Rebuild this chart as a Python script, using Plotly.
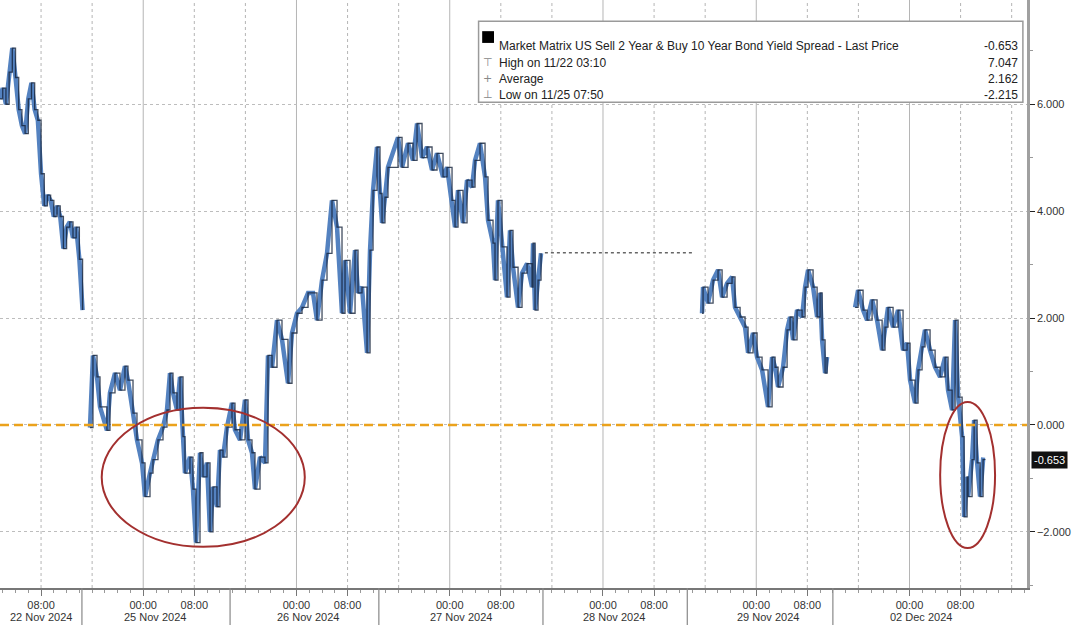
import plotly.graph_objects as go

# x = hours on the compressed trading axis (22 Nov 00:00 = 0, one 24h slot per trading day)
nov22_hours = [1.5, 2.0, 2.5, 3.0, 3.5, 4.0, 4.5, 5.0, 5.5, 6.0, 6.5, 7.0, 7.5, 8.0,
               8.5, 9.0, 9.5, 10.0, 10.5, 11.0, 11.5, 12.0, 12.5, 13.0, 13.5, 14.0, 14.5]
nov22_spread = [6.1, 6.3, 6.0, 6.6, 7.05, 6.5, 5.9, 5.6, 5.45, 6.1, 6.4, 5.9, 5.7, 4.7,
                4.1, 4.3, 4.2, 3.9, 4.1, 3.9, 3.3, 3.7, 3.8, 3.5, 3.7, 3.1, 2.15]

nov25_27_hours = [15.66, 16.13, 16.76, 17.23, 18.32, 18.79, 19.58, 20.36, 21.14, 21.61,
                  22.40, 23.02, 23.81, 24.28, 25.06, 25.53, 26.31, 27.10, 27.72, 28.19,
                  28.66, 29.29, 29.76, 30.23, 30.54, 31.32, 31.79, 32.26, 32.89, 33.36,
                  33.99, 34.46, 34.93, 35.55, 36.02, 36.49, 37.12, 37.90, 38.37, 39.16,
                  39.94, 40.41, 41.03, 41.50, 42.29, 43.07, 43.54, 44.17, 44.95, 45.73,
                  46.67, 47.30, 48.08, 48.87, 49.81, 50.59, 51.21, 52.00, 52.78, 53.56,
                  54.35, 55.13, 55.60, 56.38, 57.17, 57.64, 58.26, 59.05, 59.52, 59.99,
                  60.61, 61.08, 61.40, 61.86, 62.33, 63.90, 64.53, 65.47, 66.25, 66.88,
                  67.66, 68.44, 69.23, 70.01, 70.95, 71.58, 72.36, 72.83, 73.30, 74.08,
                  74.71, 75.49, 75.96, 76.74, 77.53, 78.00, 78.78, 79.09, 79.56, 80.19,
                  80.97, 81.44, 81.91, 82.70, 83.32, 84.11, 84.89, 85.05, 85.36, 85.83,
                  86.30]
nov25_27_spread = [-0.05, 1.3, 0.9, 0.34, -0.1, 0.6, 0.97, 0.65, 1.1, 0.84,
                   0.22, -0.28, -0.71, -1.34, -0.9, -0.65, -0.28, -0.04, 0.28, 0.97,
                   0.6, 0.28, 0.9, -0.22, -0.9, -0.6, -1.2, -2.2, -0.52, -0.97,
                   -0.71, -2.0, -1.16, -1.53, -0.47, -0.6, -0.04, 0.41, -0.09, -0.28,
                   0.47, -0.28, -0.52, -1.2, -0.6, -0.71, 1.3, 1.08, 1.96, 1.6,
                   0.78, 1.72, 2.09, 2.2, 2.47, 2.47, 1.96, 2.71, 3.21, 4.2,
                   3.7, 2.09, 3.08, 2.09, 3.27, 2.47, 2.58, 1.35, 3.27, 4.39,
                   5.2, 4.33, 3.78, 4.26, 4.82, 5.38, 4.82, 5.27, 4.95, 5.64,
                   5.0, 5.2, 4.77, 5.08, 4.64, 4.82, 4.2, 3.7, 4.39, 3.78,
                   4.58, 4.45, 4.95, 5.27, 4.64, 3.83, 3.4, 2.71, 4.2, 3.33,
                   2.39, 3.64, 2.95, 2.2, 2.84, 3.02, 2.58, 3.4, 2.15, 2.71,
                   3.21]

# Thanksgiving: no trading, last value carried
holiday_hours = [86.9, 110.1]
holiday_spread = [3.22, 3.22]

nov29_hours = [111.51, 111.67, 112.45, 113.24, 114.02, 114.65, 115.43, 116.21, 116.68,
               117.47, 118.25, 118.72, 119.50, 120.13, 120.91, 121.85, 122.48, 122.95,
               123.42, 124.20, 124.83, 125.30, 125.77, 126.39, 127.18, 127.65, 128.12,
               128.90, 129.53, 130.00, 130.31, 130.78, 131.09]
nov29_spread = [2.09, 2.58, 2.28, 2.71, 2.9, 2.39, 2.65, 2.77, 2.2,
                2.02, 1.83, 1.35, 1.72, 1.27, 1.03, 0.34, 1.27, 1.08,
                0.71, 1.08, 1.78, 2.02, 1.59, 2.15, 2.02, 2.58, 2.9,
                2.58, 2.02, 2.47, 1.59, 0.97, 1.27]

dec02_hours = [135.48, 135.95, 136.73, 137.36, 138.14, 138.92, 139.71, 140.17, 140.64,
               141.43, 142.21, 142.99, 143.62, 144.09, 144.87, 145.34, 145.97, 146.43,
               147.22, 148.01, 148.79, 149.57, 150.04, 150.67, 151.14, 151.61, 152.24,
               152.55, 153.02, 153.18, 153.80, 154.12, 154.59, 155.05, 155.52, 155.83]
dec02_spread = [2.2, 2.52, 2.15, 1.96, 2.34, 1.96, 1.4, 1.83, 2.2,
                1.83, 2.15, 1.4, 1.53, 0.84, 0.41, 1.03, 1.46, 1.78,
                1.4, 1.08, 0.9, 1.27, 0.65, 0.28, 1.96, 0.52, -0.22,
                -1.72, -0.97, -1.34, -0.65, 0.09, -0.71, -1.34, -0.65, -0.653]

day_labels = ["22 Nov 2024", "25 Nov 2024", "26 Nov 2024", "27 Nov 2024",
              "28 Nov 2024", "29 Nov 2024", "02 Dec 2024"]
day_starts = [0, 24, 48, 72, 96, 120, 144]
day_separators = [14.4, 37.6, 60.9, 86.6, 109.2, 132.0]

legend_title = "Market Matrix US Sell 2 Year & Buy 10 Year Bond Yield Spread - Last Price"
stat_labels = ["High on 11/22 03:10", "Average", "Low on 11/25 07:50"]
stat_glyphs = ["⊤", "+", "⊥"]
stat_values = [7.047, 2.162, -2.215]
last_price = -0.653

y_ticks = [-2, 0, 2, 4, 6]

FONT = "Liberation Sans"
BLUE = "#5482c0"

fig = go.Figure()

sessions = [(nov22_hours, nov22_spread), (nov25_27_hours, nov25_27_spread),
            (nov29_hours, nov29_spread), (dec02_hours, dec02_spread)]
for hrs, vals in sessions:
    # light blue body, dark bar outline on top (Bloomberg bar look)
    fig.add_trace(go.Scatter(x=hrs, y=vals, mode="lines",
                             line=dict(color=BLUE, width=4.5), hoverinfo="skip"))
    fig.add_trace(go.Scatter(x=hrs, y=vals, mode="lines", line_shape="hv",
                             line=dict(color="#14223a", width=1.3), opacity=0.8,
                             hoverinfo="skip"))

fig.add_trace(go.Scatter(x=holiday_hours, y=holiday_spread, mode="lines",
                         line=dict(color="#666", width=1.5, dash="dot"), hoverinfo="skip"))

shapes = []
# vertical grid: solid at midnight, dotted at 08:00 / 16:00
for d in day_starts + [168]:
    for h, dash in [(0, "solid"), (8, "dot"), (16, "dot")]:
        xv = d + h
        if 1.6 < xv < 162.4:
            shapes.append(dict(type="line", xref="x", yref="paper", x0=xv, x1=xv, y0=0, y1=1,
                               line=dict(color="#b5b5b5", width=1, dash=dash), layer="below"))
# day separators in the label strip
for s in day_separators:
    shapes.append(dict(type="line", xref="x", yref="paper", x0=s, x1=s, y0=0, y1=-0.07,
                       line=dict(color="#888", width=1.2)))
# zero line
shapes.append(dict(type="line", xref="paper", yref="y", x0=0, x1=1, y0=0, y1=0,
                   line=dict(color="#eba21c", width=2.5, dash="9px,5px")))
# red highlight ellipses
shapes.append(dict(type="circle", xref="x", yref="y", x0=17.5, x1=49.3, y0=-2.28, y1=0.32,
                   line=dict(color="#a3302f", width=2)))
shapes.append(dict(type="circle", xref="x", yref="y", x0=148.8, x1=157.4, y0=-2.3, y1=0.43,
                   line=dict(color="#a3302f", width=2)))
# legend box
shapes.append(dict(type="rect", xref="paper", yref="paper", x0=0.466, x1=0.996,
                   y0=0.826, y1=0.964, fillcolor="white",
                   line=dict(color="#9a9a9a", width=1.5)))
shapes.append(dict(type="rect", xref="paper", yref="paper", x0=0.4695, x1=0.481,
                   y0=0.927, y1=0.947, fillcolor="black", line=dict(width=0)))

annotations = []
rows_y = [0.937, 0.909, 0.881, 0.853]
annotations.append(dict(x=0.484, y=rows_y[0], xref="paper", yref="paper", xanchor="left",
                        text=legend_title, showarrow=False, font=dict(size=12, color="#222")))
annotations.append(dict(x=0.993, y=rows_y[0], xref="paper", yref="paper", xanchor="right",
                        text=f"{last_price:.3f}", showarrow=False, font=dict(size=12, color="#222")))
for i, (lab, g, v) in enumerate(zip(stat_labels, stat_glyphs, stat_values)):
    annotations.append(dict(x=0.475, y=rows_y[i + 1], xref="paper", yref="paper",
                            xanchor="center", text=g, showarrow=False,
                            font=dict(size=11, color="#888", family="DejaVu Sans")))
    annotations.append(dict(x=0.484, y=rows_y[i + 1], xref="paper", yref="paper",
                            xanchor="left", text=lab, showarrow=False,
                            font=dict(size=12, color="#222")))
    annotations.append(dict(x=0.993, y=rows_y[i + 1], xref="paper", yref="paper",
                            xanchor="right", text=f"{v:.3f}", showarrow=False,
                            font=dict(size=12, color="#222")))
# date row
for d, lab in zip(day_starts, day_labels):
    xl = d + 1.8 if d > 0 else 8
    annotations.append(dict(x=xl, y=-0.05, xref="x", yref="paper", yanchor="middle",
                            text=lab, showarrow=False, font=dict(size=11, color="#333")))
# last price tag
annotations.append(dict(x=1, y=last_price, xref="paper", yref="y", xanchor="left", xshift=4,
                        text=f"{last_price:.3f}", showarrow=False, bgcolor="#111",
                        borderpad=2, font=dict(size=11, color="white")))

tick_vals = []
tick_text = []
for d in day_starts:
    for h in (0, 8):
        if d + h > 1.6:
            tick_vals.append(d + h)
            tick_text.append(f"{h:02d}:00")

fig.update_layout(
    width=1080, height=625,
    margin=dict(l=0, r=53, t=0, b=37),
    paper_bgcolor="white", plot_bgcolor="white",
    showlegend=False,
    font=dict(family=FONT, size=11, color="#333"),
    shapes=shapes, annotations=annotations,
)
fig.update_xaxes(range=[1.57, 162.4], tickvals=tick_vals, ticktext=tick_text,
                 showgrid=False, zeroline=False, showline=True, linecolor="#777",
                 linewidth=1.5, ticks="outside", ticklen=6, tickcolor="#777",
                 minor=dict(dtick=2, tick0=0, ticklen=3, ticks="outside", tickcolor="#999"),
                 tickfont=dict(size=11, color="#333"))
fig.update_yaxes(side="right", range=[-3.05, 7.95], tickvals=y_ticks, tickformat=".3f",
                 showgrid=True, gridcolor="#bdbdbd", griddash="dot", zeroline=False,
                 showline=True, linecolor="#a0a0a0", linewidth=2.5, ticks="outside",
                 ticklen=5, tickcolor="#222",
                 minor=dict(dtick=1, ticklen=3, ticks="outside", tickcolor="#999"),
                 tickfont=dict(size=11, color="#333"))

fig.write_html("out.html", config={"displayModeBar": False},
               post_script="document.body.style.margin='0';")
